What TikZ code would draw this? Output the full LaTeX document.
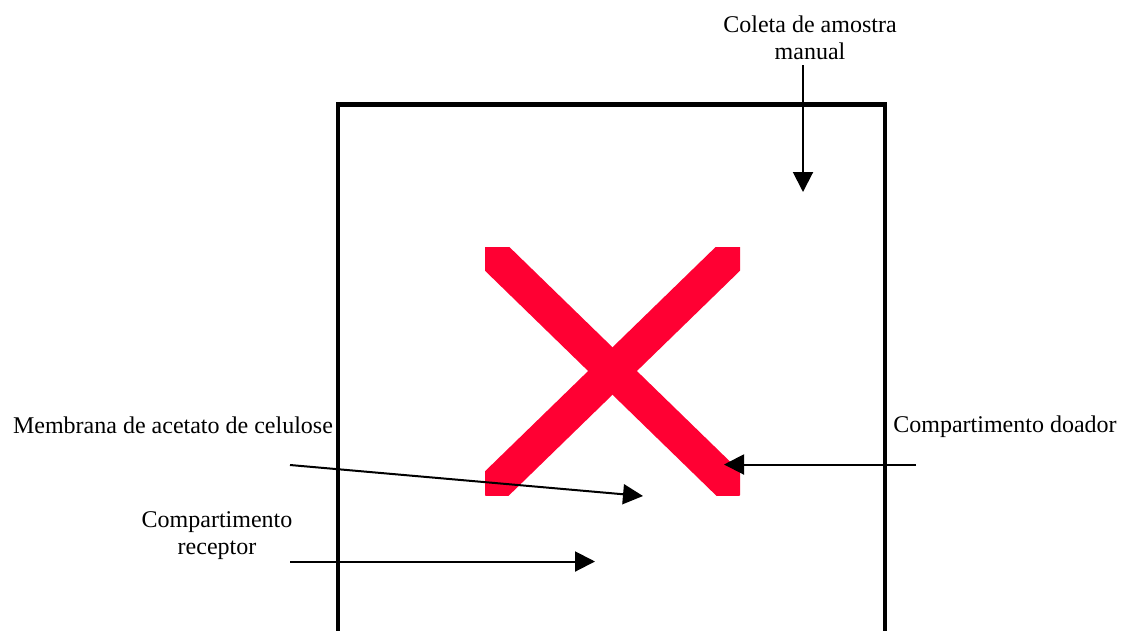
\documentclass[tikz,border=0pt]{standalone}
\usepackage{fontspec}
\setmainfont{Liberation Serif}
\usetikzlibrary{arrows.meta}
\definecolor{crossred}{HTML}{FF0033}

\begin{document}
\begin{tikzpicture}[x=1pt, y=-1pt,
    lbl/.style={inner sep=0pt, align=center, font=\fontsize{24}{27}\selectfont},
    pointer/.style={line width=2pt, -{Triangle[length=20pt, width=20pt]}}]
    \useasboundingbox (0,0) rectangle (1121,630);

    \draw[line width=4.5pt] (338,634) -- (338,104.5) -- (885,104.5) -- (885,634);

    \coordinate (X1) at (485,247);
    \coordinate (X2) at (740,495);
    \coordinate (X3) at (740,247);
    \coordinate (X4) at (485,495);
    \begin{scope}
      \clip (X1) rectangle (X2);
      \draw[crossred, line width=34pt] (X1) -- (X2);
      \draw[crossred, line width=34pt] (X3) -- (X4);
    \end{scope}

    \node[lbl] (coleta) at (810,38) {Coleta de amostra\\manual};
    \node[lbl, anchor=base] (doador) at (1005,432) {Compartimento doador};
    \node[lbl, anchor=base] (membrana) at (173,433) {Membrana de acetato de celulose};
    \node[lbl] (receptor) at (217,536) {Compartimento\\receptor};

    \coordinate (c0) at (803,65);
    \coordinate (c1) at (803,192);
    \coordinate (d0) at (916,464.5);
    \coordinate (d1) at (724,464.5);
    \coordinate (m0) at (290,465);
    \coordinate (m1) at (643,496);
    \coordinate (r0) at (290,561.5);
    \coordinate (r1) at (595,561.5);

    \draw[pointer] (c0) -- (c1);
    \draw[pointer] (d0) -- (d1);
    \draw[pointer] (m0) -- (m1);
    \draw[pointer] (r0) -- (r1);
  \end{tikzpicture}
\end{document}
